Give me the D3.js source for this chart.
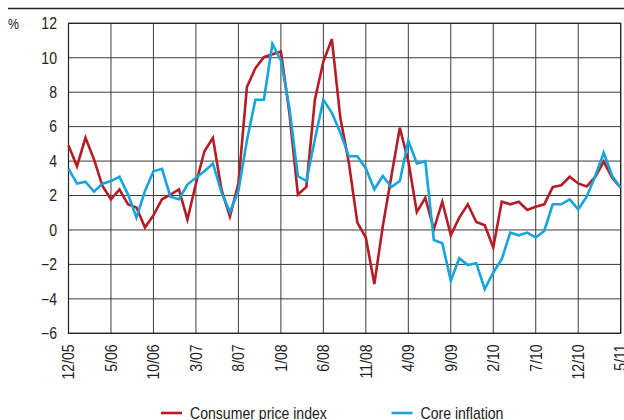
<!DOCTYPE html>
<html>
<head>
<meta charset="utf-8">
<script src="https://cdn.jsdelivr.net/npm/d3@7"></script>
<style>
  body { margin: 0; background: #fff; }
  svg { display: block; font-family: "Liberation Sans", Arial, sans-serif; }
  .grid line { stroke: #3a3a3a; stroke-width: 1; }
  text { fill: #222; font-size: 16px; }
</style>
</head>
<body>
<div id="chart"></div>
<script>
var months = ['12/05','1/06','2/06','3/06','4/06','5/06','6/06','7/06','8/06','9/06','10/06','11/06',
    '12/06','1/07','2/07','3/07','4/07','5/07','6/07','7/07','8/07','9/07','10/07','11/07',
    '12/07','1/08','2/08','3/08','4/08','5/08','6/08','7/08','8/08','9/08','10/08','11/08',
    '12/08','1/09','2/09','3/09','4/09','5/09','6/09','7/09','8/09','9/09','10/09','11/09',
    '12/09','1/10','2/10','3/10','4/10','5/10','6/10','7/10','8/10','9/10','10/10','11/10',
    '12/10','1/11','2/11','3/11','4/11','5/11'];

var tickLabels = ['12/05','5/06','10/06','3/07','8/07','1/08','6/08','11/08','4/09','9/09','2/10','7/10','12/10','5/11'];
var yTicks = [-6, -4, -2, 0, 2, 4, 6, 8, 10, 12];

// Consumer price index, % y/y
var cpi = [4.9, 3.7, 5.35, 4.1, 2.55, 1.78, 2.35, 1.49, 1.3, 0.14, 0.85, 1.78,
    2.05, 2.35, 0.6, 2.7, 4.57, 5.35, 2.35, 0.78, 2.7, 8.3, 9.4, 10.03,
    10.2, 10.36, 6.8, 2.06, 2.5, 7.56, 9.78, 11.08, 6.5, 3.9, 0.43, -0.44,
    -3.14, 0.23, 3.1, 5.93, 4.0, 1.04, 1.87, 0.04, 1.64, -0.3, 0.72, 1.49,
    0.46, 0.27, -1.02, 1.64, 1.49, 1.64, 1.16, 1.35, 1.49, 2.49, 2.6, 3.09,
    2.7, 2.53, 3.08, 3.97, 3.03, 2.45];

// Core inflation, % y/y
var core = [3.55, 2.69, 2.8, 2.22, 2.69, 2.84, 3.09, 2.07, 0.72, 2.26, 3.41, 3.55,
    1.93, 1.78, 2.64, 3.03, 3.41, 3.86, 2.2, 1.04, 2.26, 5.2, 7.56, 7.56,
    10.8, 9.85, 7.1, 3.13, 2.84, 5.25, 7.56, 6.8, 5.64, 4.28, 4.28, 3.57,
    2.36, 3.13, 2.49, 2.84, 5.19, 3.86, 3.99, -0.58, -0.77, -2.95, -1.64, -2.04,
    -1.93, -3.43, -2.47, -1.7, -0.15, -0.31, -0.15, -0.44, -0.06, 1.49, 1.49, 1.78,
    1.2, 1.93, 3.13, 4.48, 3.13, 2.45];

var width = 624, height = 420,
    plotLeft = 68.5, plotRight = 620.7, plotTop = 23.3, plotBottom = 333.3,
    squeeze = "scale(0.88,1)";   // condensed look of the original typeface

var svg = d3.select("#chart").append("svg")
    .attr("width", width)
    .attr("height", height);

var x = d3.scalePoint()
    .domain(months)
    .range([plotLeft, plotRight]);

var y = d3.scaleLinear()
    .domain([-6, 12])
    .range([plotBottom, plotTop]);

// rule across the top
svg.append("line")
    .attr("x1", 8).attr("x2", width)
    .attr("y1", 8.5).attr("y2", 8.5)
    .attr("stroke", "#222")
    .attr("stroke-width", 1.5);

svg.append("text")
    .attr("transform", "translate(8,29)" + squeeze)
    .style("font-size", "14px")
    .text("%");

// grid
var grid = svg.append("g").attr("class", "grid");

grid.selectAll(".hline")
    .data(yTicks)
  .enter().append("line")
    .attr("x1", plotLeft).attr("x2", plotRight)
    .attr("y1", function(d) { return y(d); })
    .attr("y2", function(d) { return y(d); });

grid.selectAll(".vline")
    .data(tickLabels)
  .enter().append("line")
    .attr("x1", function(d) { return x(d); })
    .attr("x2", function(d) { return x(d); })
    .attr("y1", plotTop).attr("y2", plotBottom);

// frame
svg.append("rect")
    .attr("x", plotLeft).attr("y", plotTop)
    .attr("width", plotRight - plotLeft).attr("height", plotBottom - plotTop)
    .attr("fill", "none")
    .attr("stroke", "#222")
    .attr("stroke-width", 1.2);

// y labels
svg.selectAll(".ylab")
    .data(yTicks)
  .enter().append("text")
    .attr("class", "ylab")
    .attr("transform", function(d) { return "translate(57," + y(d) + ")" + squeeze; })
    .attr("dy", "0.36em")
    .attr("text-anchor", "end")
    .text(function(d) { return d < 0 ? "\u2212" + Math.abs(d) : d; });

// x labels, rotated
svg.selectAll(".xlab")
    .data(tickLabels)
  .enter().append("text")
    .attr("class", "xlab")
    .attr("transform", function(d) { return "translate(" + x(d) + "," + (plotBottom + 11) + ")rotate(-90)" + squeeze; })
    .attr("dy", "0.36em")
    .attr("text-anchor", "end")
    .text(function(d) { return d; });

// lines
var line = d3.line()
    .x(function(d, i) { return x(months[i]); })
    .y(function(d) { return y(d); });

svg.append("path")
    .datum(cpi)
    .attr("fill", "none")
    .attr("stroke", "#b71c25")
    .attr("stroke-width", 2.6)
    .attr("d", line);

svg.append("path")
    .datum(core)
    .attr("fill", "none")
    .attr("stroke", "#14a5dc")
    .attr("stroke-width", 2.6)
    .attr("d", line);

// legend
var items = [
    { name: "Consumer price index", color: "#b71c25", x: 161 },
    { name: "Core inflation", color: "#14a5dc", x: 391.5 }
];
var item = svg.append("g").selectAll("g")
    .data(items)
  .enter().append("g")
    .attr("transform", function(d) { return "translate(" + d.x + ",413)"; });

item.append("line")
    .attr("x1", 0).attr("x2", 21)
    .attr("stroke", function(d) { return d.color; })
    .attr("stroke-width", 2.6);

item.append("text")
    .attr("transform", "translate(29,0)" + squeeze)
    .attr("dy", "0.36em")
    .text(function(d) { return d.name; });
</script>
</body>
</html>
